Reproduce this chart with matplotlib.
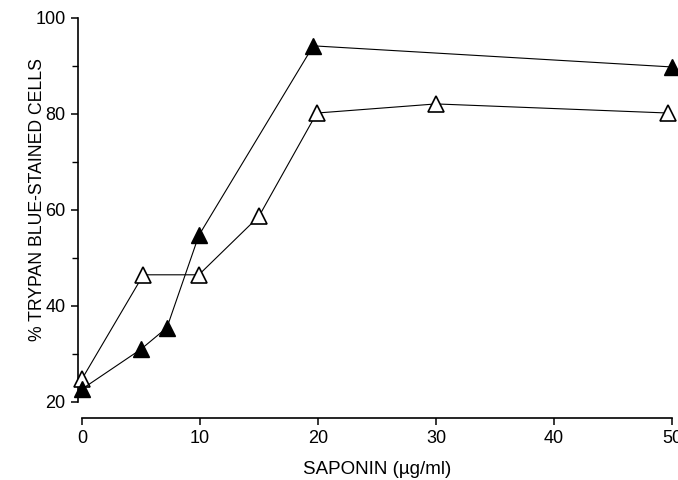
import matplotlib
matplotlib.use("Agg")
import matplotlib.pyplot as plt

plt.rcParams['font.family'] = ['Liberation Sans', 'DejaVu Sans']

# saponin (ug/ml) vs % trypan blue-stained cells
saponina_llenos = [0, 5, 7.2, 9.9, 19.6, 50]
tincion_llenos = [22.7, 31, 35.5, 54.7, 94.2, 89.8]

saponina_vacios = [0, 5.2, 9.9, 15, 19.9, 30, 49.7]
tincion_vacios = [24.8, 46.5, 46.5, 58.7, 80.2, 82.1, 80.2]

ticks_x = [0, 10, 20, 30, 40, 50]
ticks_y = [20, 40, 60, 80, 100]
ticks_y_menores = [30, 50, 70, 90]

fig = plt.figure(figsize=(6.78, 4.8), dpi=100)
ax = fig.add_axes([78 / 678, 1 - 402 / 480, 598 / 678, 384 / 480])

ax.plot(saponina_vacios, tincion_vacios, color='black', linewidth=0.8,
        marker='^', markersize=11.5, markerfacecolor='white',
        markeredgecolor='black', markeredgewidth=1.2, clip_on=False, zorder=3)
ax.plot(saponina_llenos, tincion_llenos, color='black', linewidth=0.8,
        marker='^', markersize=11.5, markerfacecolor='black',
        markeredgecolor='black', clip_on=False, zorder=4)

ax.set_xlim(-0.34, 50.34)
ax.set_ylim(20, 100)

for lado in ['top', 'right']:
    ax.spines[lado].set_visible(False)
ax.spines['left'].set_bounds(20, 100)
ax.spines['bottom'].set_bounds(0, 50)
ax.spines['bottom'].set_position(('outward', 11.5))
ax.spines['left'].set_linewidth(1.2)
ax.spines['bottom'].set_linewidth(1.2)

ax.set_xticks(ticks_x)
ax.set_xticklabels(['0', '10', '20', '30', '40', '50'])
ax.set_yticks(ticks_y)
ax.set_yticks(ticks_y_menores, minor=True)
ax.tick_params(axis='both', which='major', direction='out', length=5,
               width=1.1, labelsize=13, pad=4)
ax.tick_params(axis='y', which='minor', direction='out', length=4, width=1.0)

ax.set_xlabel('SAPONIN (µg/ml)', fontsize=13.5, labelpad=10)
ax.set_ylabel('% TRYPAN BLUE-STAINED CELLS', fontsize=12.7)
ax.yaxis.set_label_coords(-0.054, 0.526)

fig.savefig('out.png', dpi=100)
